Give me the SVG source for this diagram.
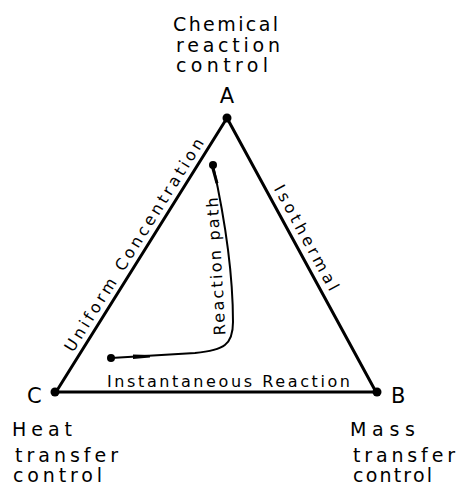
<svg xmlns="http://www.w3.org/2000/svg" width="457" height="487" viewBox="0 0 457 487">
<style>
text{font-family:"DejaVu Sans","Liberation Sans",Arial,sans-serif;fill:#000}
.top{font-size:19px}
.bot{font-size:19px}
.vtx{font-size:21px}
.edge{font-size:16px}
.tri{fill:none;stroke:#000;stroke-width:3;stroke-linejoin:round}
.path{fill:none;stroke:#000;stroke-width:2}
</style>
<rect width="457" height="487" fill="#fff"/>
<g id="connectors">
<polygon class="tri" points="227,118 376,392 56,392"/>
<path id="reaction-path" class="path" d="M111,358 L195,353 C224,350 233,345 233,322 C233,270 224,215 213,165"/>
<polygon points="133,354.5 150,355 150,357.5 133,359" fill="#000"/>
<polygon points="211.2,168 214.2,167.5 218.5,183 215.5,183.5" fill="#000"/>
<text class="edge" transform="translate(73,353) rotate(-58)" textLength="248" lengthAdjust="spacing">Uniform  Concentration</text>
<text class="edge" transform="translate(273.5,188.5) rotate(61.5)" textLength="118" lengthAdjust="spacing">Isothermal</text>
<text class="edge" x="107" y="387" textLength="243" lengthAdjust="spacing">Instantaneous Reaction</text>
<text class="edge" transform="translate(225.5,335) rotate(-93.3)" textLength="138" lengthAdjust="spacing">Reaction path</text>
</g>
<g id="node-A">
<circle cx="227" cy="118" r="4.5"/>
<circle cx="213" cy="165" r="4"/>
<text class="vtx" x="227" y="103" text-anchor="middle">A</text>
<text class="top" x="173" y="31" textLength="105" lengthAdjust="spacing">Chemical</text>
<text class="top" x="176" y="52" textLength="104" lengthAdjust="spacing">reaction</text>
<text class="top" x="176" y="72" textLength="92" lengthAdjust="spacing">control</text>
</g>
<g id="node-B">
<circle cx="377" cy="392" r="4.5"/>
<text class="vtx" x="391" y="403">B</text>
<text class="bot" x="350" y="436" textLength="65" lengthAdjust="spacing">Mass</text>
<text class="bot" x="353" y="462" textLength="102" lengthAdjust="spacing">transfer</text>
<text class="bot" x="353" y="482" textLength="79" lengthAdjust="spacing">control</text>
</g>
<g id="node-C">
<circle cx="55" cy="392" r="4.5"/>
<circle cx="111" cy="358" r="4"/>
<text class="vtx" x="27" y="403">C</text>
<text class="bot" x="12" y="436" textLength="60" lengthAdjust="spacing">Heat</text>
<text class="bot" x="15" y="462" textLength="103" lengthAdjust="spacing">transfer</text>
<text class="bot" x="13" y="482" textLength="89" lengthAdjust="spacing">control</text>
</g>
</svg>
